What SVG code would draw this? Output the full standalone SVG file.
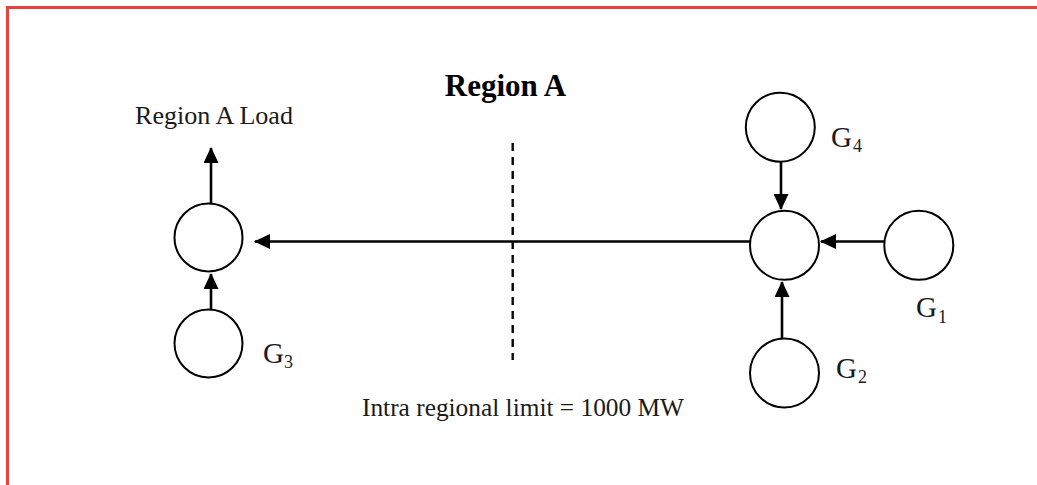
<svg xmlns="http://www.w3.org/2000/svg" width="1037" height="485" viewBox="0 0 1037 485">
<style>
.frame{fill:none;stroke:#e8433a;stroke-width:3}
.node{fill:#fff;stroke:#000;stroke-width:2}
.conn{fill:none;stroke:#000;stroke-width:2.6}
.dash{fill:none;stroke:#000;stroke-width:2.4;stroke-dasharray:8 6}
text{font-family:"Liberation Serif","Times New Roman",serif;fill:#1a1a1a}
.lbl{font-size:25px}
.title{font-size:31px;font-weight:bold;fill:#000}
.g{font-size:29px}
.sub{font-size:18px}
</style>
<defs>
<marker id="ah" viewBox="0 0 16 15" refX="15" refY="7.5" markerWidth="16" markerHeight="15" markerUnits="userSpaceOnUse" orient="auto">
<path d="M0,0 L16,7.5 L0,15 z" fill="#000"/>
</marker>
</defs>
<rect width="1037" height="485" fill="#fff"/>
<path class="frame" d="M7.5,485 L7.5,7.5 L1037,7.5"/>

<text class="title" x="505.5" y="96" text-anchor="middle">Region A</text>
<text class="lbl" x="135" y="124" textLength="158" lengthAdjust="spacingAndGlyphs">Region A Load</text>
<text class="lbl" x="362" y="416" textLength="322" lengthAdjust="spacingAndGlyphs">Intra regional limit = 1000 MW</text>

<line class="dash" x1="512.7" y1="143" x2="512.7" y2="360"/>

<g id="connectors">
<line class="conn" x1="211" y1="203" x2="211" y2="148" marker-end="url(#ah)"/>
<line class="conn" x1="211" y1="309" x2="211" y2="274" marker-end="url(#ah)"/>
<line class="conn" x1="750" y1="241.5" x2="255" y2="241.5" marker-end="url(#ah)"/>
<line class="conn" x1="884" y1="241.5" x2="821" y2="241.5" marker-end="url(#ah)"/>
<line class="conn" x1="781" y1="162" x2="781" y2="209" marker-end="url(#ah)"/>
<line class="conn" x1="782" y1="338" x2="782" y2="282" marker-end="url(#ah)"/>
</g>

<g id="bus-left"><circle class="node" cx="208.5" cy="237.5" r="34"/></g>
<g id="G3"><circle class="node" cx="208.5" cy="343.5" r="34"/>
<text class="g" x="263" y="363">G</text><text class="sub" x="284" y="368">3</text></g>
<g id="bus-right"><circle class="node" cx="784.5" cy="245.3" r="34.5"/></g>
<g id="G4"><circle class="node" cx="780.3" cy="127.2" r="34.5"/>
<text class="g" x="831" y="147">G</text><text class="sub" x="853" y="152">4</text></g>
<g id="G1"><circle class="node" cx="918.8" cy="245.3" r="34.5"/>
<text class="g" x="916" y="317">G</text><text class="sub" x="938" y="323">1</text></g>
<g id="G2"><circle class="node" cx="784.5" cy="373" r="34.5"/>
<text class="g" x="836" y="378">G</text><text class="sub" x="858" y="383">2</text></g>
</svg>
